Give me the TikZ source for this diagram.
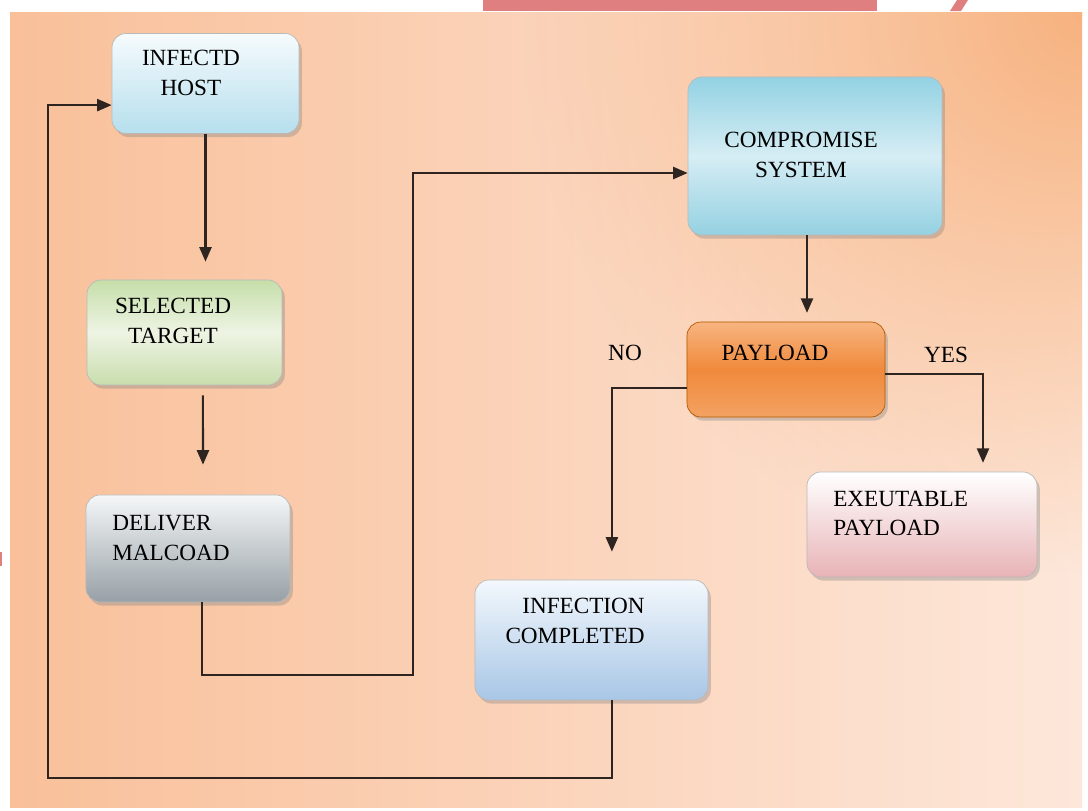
\documentclass[tikz,border=0pt]{standalone}
\usepackage{fontspec}
\setmainfont{Liberation Serif}
\usetikzlibrary{arrows.meta,shadows,fadings}

\definecolor{bgleft}{HTML}{F9C09A}
\definecolor{bgright}{HTML}{FDE7DA}
\definecolor{bgglow}{HTML}{F7B27F}
\definecolor{redmark}{HTML}{E07F7F}
\definecolor{linebrown}{HTML}{2E2520}
\definecolor{hosttop}{HTML}{F6FBFD}
\definecolor{hostbot}{HTML}{B6DFED}
\definecolor{targettop}{HTML}{C6DEA9}
\definecolor{targetmid}{HTML}{EEF4E4}
\definecolor{targetbot}{HTML}{C8DDAD}
\definecolor{delivtop}{HTML}{F5F7F8}
\definecolor{delivbot}{HTML}{97A0A6}
\definecolor{comptop}{HTML}{93D2E3}
\definecolor{compmid}{HTML}{D6EDF4}
\definecolor{compbot}{HTML}{95D1E2}
\definecolor{paytop}{HTML}{F7B480}
\definecolor{paymid}{HTML}{F08A3C}
\definecolor{paybot}{HTML}{F3A262}
\definecolor{exectop}{HTML}{FFFFFF}
\definecolor{execbot}{HTML}{E8B3B6}
\definecolor{inftop}{HTML}{F3F8FC}
\definecolor{infbot}{HTML}{A8C6E6}

\tikzfading[name=glow, inner color=transparent!0, outer color=transparent!100]

\begin{document}
\begin{tikzpicture}[x=0.025cm, y=-0.025cm]
	\tikzstyle{Box} = [rectangle, rounded corners=0.35cm, draw=gray!55, line width=0.5pt, drop shadow={shadow xshift=0.07cm, shadow yshift=-0.09cm, opacity=0.35}]
	\tikzstyle{Text} = [font=\fontsize{16.5}{21}\selectfont, align=center, inner sep=0pt, text=black]
	\tikzstyle{arrow} = [line width=1.5pt, draw=linebrown, ->, >={Triangle[length=0.36cm, width=0.3cm]}]

	% background panel
	\fill[white] (0,0) rectangle (1088,811);
	\shade[left color=bgleft, right color=bgright] (10,12) rectangle (1082,807);
	\begin{scope}
		\clip (10,12) rectangle (1082,807);
		\fill[bgglow, path fading=glow] (1082,12) circle (560);
	\end{scope}
	\fill[redmark] (483,0) rectangle (877,11);
	\fill[redmark] (950,11) -- (957,0) -- (968,0) -- (961,11) -- cycle;
	\fill[redmark] (0,552) rectangle (2,566);

	% boxes
	\node (host) [Box, top color=hosttop, bottom color=hostbot, minimum width=4.675cm, minimum height=2.5cm] at (205.5,83.5) {};
	\node (target) [Box, top color=targettop, bottom color=targetbot, middle color=targetmid, minimum width=4.875cm, minimum height=2.625cm] at (184.5,332.5) {};
	\node (deliver) [Box, top color=delivtop, bottom color=delivbot, minimum width=5.1cm, minimum height=2.675cm] at (188,548.5) {};
	\node (compromise) [Box, top color=comptop, bottom color=compbot, middle color=compmid, minimum width=6.35cm, minimum height=3.95cm] at (815,156) {};
	\node (payload) [Box, top color=paytop, bottom color=paybot, middle color=paymid, draw=orange!70!black, minimum width=4.95cm, minimum height=2.375cm] at (786,369.5) {};
	\node (exec) [Box, top color=exectop, bottom color=execbot, minimum width=5.75cm, minimum height=2.625cm] at (922,524.5) {};
	\node (infcomp) [Box, top color=inftop, bottom color=infbot, minimum width=5.825cm, minimum height=3cm] at (591.5,640) {};

	% texts
	\node (host-t) [Text] at (191,73) {INFECTD\\HOST};
	\node (target-t) [Text] at (173,321) {SELECTED\\TARGET};
	\node (deliver-t) [Text, align=left, anchor=west] at (112,538) {DELIVER\\MALCOAD};
	\node (compromise-t) [Text] at (801,155) {COMPROMISE\\SYSTEM};
	\node (payload-t) [Text] at (775,353) {PAYLOAD};
	\node (exec-t) [Text, align=left, anchor=west] at (833,513.5) {EXEUTABLE\\PAYLOAD};
	\node (infcomp-t) [Text, align=right, anchor=east] at (645,621) {INFECTION\\COMPLETED};
	\node (no) [Text] at (625,353) {NO};
	\node (yes) [Text] at (946,355) {YES};

	% connectors
	\coordinate (bend1) at (413,675);
	\coordinate (bend2) at (48,778);
	\draw[arrow, shorten >=0.45cm] (host.south) -- (host.south |- target.north);
	\draw[arrow, shorten <=0.25cm, shorten >=0.75cm] ([xshift=0.46cm]target.south) -- ([xshift=0.375cm]deliver.north);
	\draw[arrow] ([xshift=0.35cm]deliver.south) |- (bend1) |- ([yshift=-0.425cm]compromise.west);
	\draw[arrow, shorten >=0.22cm] ([xshift=-0.2cm]compromise.south) -- ([xshift=-0.2cm]compromise.south |- payload.north);
	\draw[arrow, shorten >=0.7cm] ([yshift=-0.46cm]payload.west) -| ([xshift=0.51cm]infcomp.north);
	\draw[arrow, shorten >=0.22cm] ([yshift=-0.11cm]payload.east) -| ([xshift=1.525cm]exec.north);
	\draw[arrow] ([xshift=0.51cm]infcomp.south) |- (bend2) |- ([yshift=-0.54cm]host.west);
\end{tikzpicture}
\end{document}
